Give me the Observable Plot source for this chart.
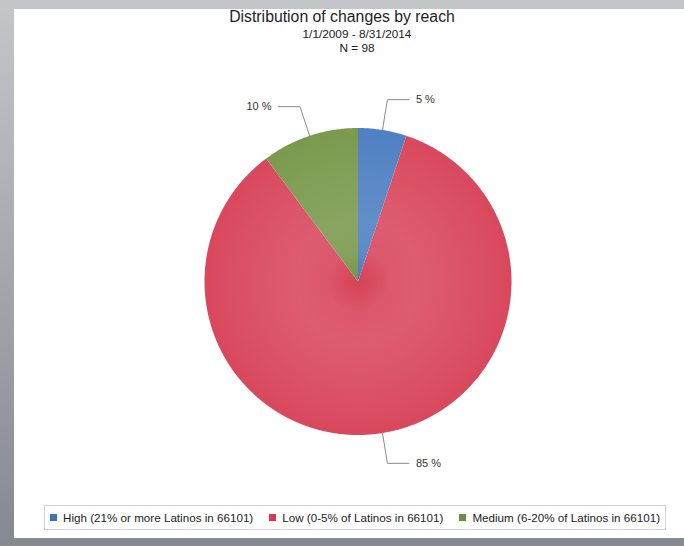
<!DOCTYPE html>
<html>
<head>
<meta charset="utf-8">
<script src="https://cdn.jsdelivr.net/npm/d3@7"></script>
<script src="https://cdn.jsdelivr.net/npm/@observablehq/plot@0.6"></script>
<style>
  html, body { margin: 0; padding: 0; }
  body {
    width: 684px; height: 546px; position: relative; overflow: hidden;
    background: linear-gradient(to bottom, #c3c7ca, #858990);
    font-family: "Liberation Sans", Arial, sans-serif;
  }
  #panel { position: absolute; left: 14px; top: 9px; width: 670px; height: 529px; background: #fff; }
  #chart { position: absolute; left: 0; top: 0; }
  #title { position: absolute; left: 0; top: 8px; width: 684px; text-align: center; font-size: 15.8px; line-height: 17px; color: #1e1e1e; }
  #subtitle { position: absolute; left: 0; top: 27px; width: 714px; text-align: center; font-size: 11.8px; line-height: 14px; color: #222; }
  #legend {
    position: absolute; left: 44px; top: 505px; width: 620px; height: 23px;
    border: 1px solid #d2d2d2; background: #fff; box-sizing: content-box;
    display: flex; align-items: center; font-size: 11.65px; color: #222; white-space: nowrap;
  }
  .item { display: flex; align-items: center; margin-left: 5px; margin-right: 11px; }
  .sw { width: 7px; height: 7px; margin-right: 6px; }
</style>
</head>
<body>
<div id="panel"></div>
<div id="chart"></div>
<div id="title"></div>
<div id="subtitle"></div>
<div id="legend"></div>
<script>
// ---- data ----
const titleText = "Distribution of changes by reach";
const subtitleLines = ["1/1/2009 - 8/31/2014", "N = 98"];
const categories = ["High (21% or more Latinos in 66101)", "Low (0-5% of Latinos in 66101)", "Medium (6-20% of Latinos in 66101)"];
const counts = [5, 83, 10];
const percentLabels = ["5 %", "85 %", "10 %"];
const sliceColors = ["#4f80c2", "#d9485d", "#7a9a4e"];
const legendColors = ["#3f72b8", "#d93a52", "#6e8e3e"];

// ---- geometry from data ----
const pie = d3.pie().sort(null).value(d => d.count).startAngle(0).endAngle(2 * Math.PI);
const arcs = pie(categories.map((c, i) => ({cat: c, count: counts[i], label: percentLabels[i], i})));

function slicePoints(a) {
  const pts = [{x: 0, y: 0}];
  const n = Math.max(2, Math.ceil((a.endAngle - a.startAngle) / (Math.PI / 360)));
  for (let k = 0; k <= n; k++) {
    const t = a.startAngle + (a.endAngle - a.startAngle) * k / n;
    pts.push({x: Math.sin(t), y: Math.cos(t)});
  }
  pts.push({x: 0, y: 0});
  return pts;
}

const elbowR = 1.2, tail = 0.14;
const leaders = [];
const labelPts = [];
arcs.forEach(a => {
  const m = (a.startAngle + a.endAngle) / 2;
  const s = Math.sin(m), c = Math.cos(m);
  const side = s >= 0 ? 1 : -1;
  const ex = elbowR * s, ey = elbowR * c;
  leaders.push({k: a.data.i, x: s, y: c});
  leaders.push({k: a.data.i, x: ex, y: ey});
  leaders.push({k: a.data.i, x: ex + side * tail, y: ey});
  labelPts.push({x: ex + side * tail, y: ey, label: a.data.label, side});
});

// gradients defs (function mark)
function defsMark(index, scales) {
  const cx = scales.x(0), cy = scales.y(0), r = scales.x(1) - scales.x(0);
  const defs = d3.create("svg:defs");
  sliceColors.forEach((col, i) => {
    const g = defs.append("radialGradient").attr("id", "grad" + i)
      .attr("gradientUnits", "userSpaceOnUse").attr("cx", cx).attr("cy", cy).attr("r", r);
    const base = d3.color(col);
    const light = d3.interpolateRgb(col, "#ffffff");
    const stops = [
      [0, base.darker(0.12).formatHex()],
      [0.07, base.formatHex()],
      [0.2, light(0.09)],
      [0.4, light(0.11)],
      [0.7, light(0.06)],
      [1, base.formatHex()]
    ];
    stops.forEach(([o, c]) => g.append("stop").attr("offset", o).attr("stop-color", c));
  });
  return defs.node();
}

const marks = [defsMark];
arcs.forEach(a => {
  marks.push(Plot.line(slicePoints(a), {x: "x", y: "y", fill: `url(#grad${a.data.i})`, stroke: "none", curve: "linear"}));
});
marks.push(Plot.line(leaders, {x: "x", y: "y", z: "k", stroke: "#8a8a8a", strokeWidth: 1, curve: "linear"}));
marks.push(Plot.text(labelPts.filter(d => d.side > 0), {x: "x", y: "y", text: "label", textAnchor: "start", dx: 7, fontSize: 11, fill: "#333", fontFamily: "Liberation Sans, Arial, sans-serif"}));
marks.push(Plot.text(labelPts.filter(d => d.side < 0), {x: "x", y: "y", text: "label", textAnchor: "end", dx: -7, fontSize: 11, fill: "#333", fontFamily: "Liberation Sans, Arial, sans-serif"}));

const chart = Plot.plot({
  width: 684,
  height: 546,
  margin: 0,
  x: {domain: [-1, 1], range: [204, 511], axis: null},
  y: {domain: [-1, 1], range: [434.5, 127.5], axis: null},
  style: {background: "transparent", overflow: "visible"},
  marks
});
document.getElementById("chart").appendChild(chart);

document.getElementById("title").textContent = titleText;
document.getElementById("subtitle").innerHTML = subtitleLines.map(s => `<div>${s}</div>`).join("");
const legend = document.getElementById("legend");
categories.forEach((c, i) => {
  const it = document.createElement("div");
  it.className = "item";
  it.innerHTML = `<span class="sw" style="background:${legendColors[i]}"></span><span>${c}</span>`;
  legend.appendChild(it);
});
</script>
</body>
</html>
